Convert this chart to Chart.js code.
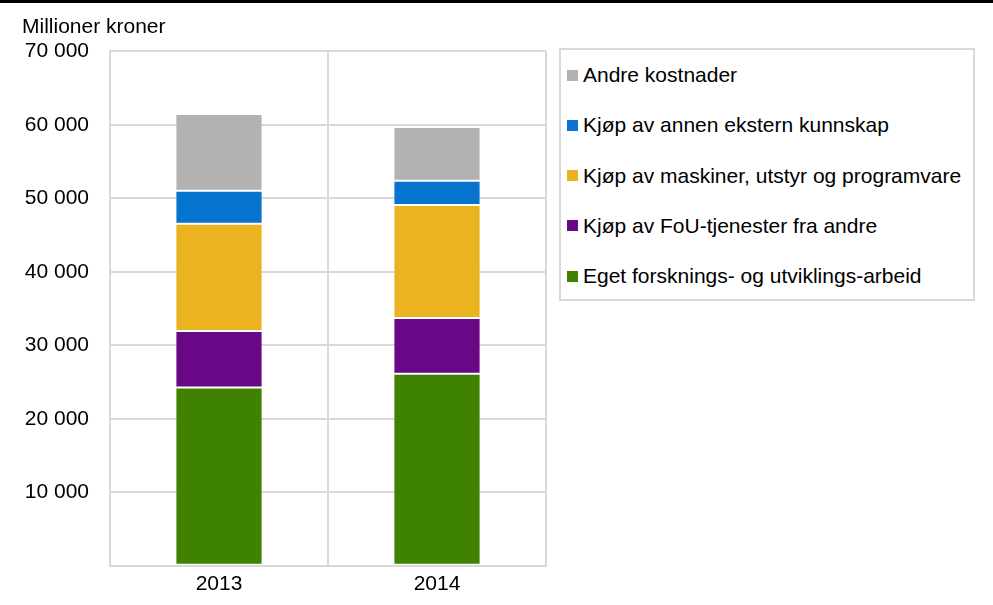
<!DOCTYPE html>
<html>
<head>
<meta charset="utf-8">
<script src="https://cdn.jsdelivr.net/npm/chart.js@4/dist/chart.umd.min.js"></script>
<style>
  body{margin:0;background:#fff;}
  #wrap{position:relative;width:993px;height:605px;}
  #topline{position:absolute;left:0;top:0;width:993px;height:3px;background:#000;}
  #chart{position:absolute;left:0;top:0;}
  #legend{position:absolute;left:559px;top:48px;width:416px;height:253px;box-sizing:border-box;border:2px solid #d9d9d9;background:#fff;
    font-family:'Liberation Sans',Arial,sans-serif;font-size:21px;color:#000;}
  #legend .item{height:50.25px;display:flex;align-items:center;padding-left:6px;white-space:nowrap;}
  #legend .sq{width:11px;height:11px;margin-right:5px;flex:none;}
</style>
</head>
<body>
<div id="wrap">
  <canvas id="chart" width="993" height="605"></canvas>
  <div id="topline"></div>
  <div id="legend"></div>
</div>
<script>
// Data (millioner kroner)
const years = ['2013', '2014'];
const eget = [24260, 26130];
const fou = [7680, 7580];
const maskiner = [14590, 15360];
const annen = [4500, 3310];
const andre = [10420, 7320];

const labels = [
  'Eget forsknings- og utviklings-arbeid',
  'Kjøp av FoU-tjenester fra andre',
  'Kjøp av maskiner, utstyr og programvare',
  'Kjøp av annen ekstern kunnskap',
  'Andre kostnader'
];
const colors = ['#3e8200', '#690887', '#ebb31f', '#0775d0', '#b2b2b2'];

const FONT = "'Liberation Sans', Arial, sans-serif";

function fmt(v){ return v === 0 ? '' : String(v).replace(/\B(?=(\d{3})+(?!\d))/g, ' '); }

// html legend, reversed like the reference
const htmlLegend = {
  id: 'htmlLegend',
  afterUpdate(chart){
    const box = document.getElementById('legend'); box.innerHTML = '';
    const items = Chart.defaults.plugins.legend.labels.generateLabels(chart).reverse();
    items.forEach(it=>{
      const el = document.createElement('div'); el.className = 'item';
      const sq = document.createElement('span'); sq.className = 'sq'; sq.style.background = it.fillStyle;
      const tx = document.createElement('span'); tx.textContent = it.text;
      el.appendChild(sq); el.appendChild(tx); box.appendChild(el);
    });
  }
};

const series = [eget, fou, maskiner, annen, andre];
const datasets = series.map((d, i)=>({
  label: labels[i],
  data: d,
  backgroundColor: colors[i],
  borderColor: 'rgba(255,255,255,0.18)',
  borderWidth: 1,
  borderSkipped: false,
  barPercentage: 0.4,
  categoryPercentage: 1.0
}));

new Chart(document.getElementById('chart'), {
  type: 'bar',
  data: { labels: years, datasets },
  options: {
    responsive: false,
    animation: false,
    layout: { padding: { top: 0, left: 22, right: 447, bottom: 2 } },
    plugins: {
      legend: { display: false },
      tooltip: { enabled: false },
      title: {
        display: true, text: 'Millioner kroner', align: 'start', color: '#000',
        font: { family: FONT, size: 21, weight: 'normal' },
        padding: { top: 15, bottom: 11 }
      }
    },
    scales: {
      x: {
        stacked: true,
        grid: { color: '#d9d9d9', lineWidth: 2, drawTicks: false },
        border: { color: '#d9d9d9', width: 2 },
        ticks: { color: '#000', padding: 6, font: { family: FONT, size: 21 } }
      },
      y: {
        stacked: true, min: 0, max: 70000,
        afterFit(s){ s.width = 88; },
        grid: { color: '#d9d9d9', lineWidth: 2, drawTicks: false },
        border: { color: '#d9d9d9', width: 2 },
        ticks: { stepSize: 10000, color: '#000', padding: 21, font: { family: FONT, size: 21 }, callback: fmt }
      }
    }
  },
  plugins: [htmlLegend]
});
</script>
</body>
</html>
